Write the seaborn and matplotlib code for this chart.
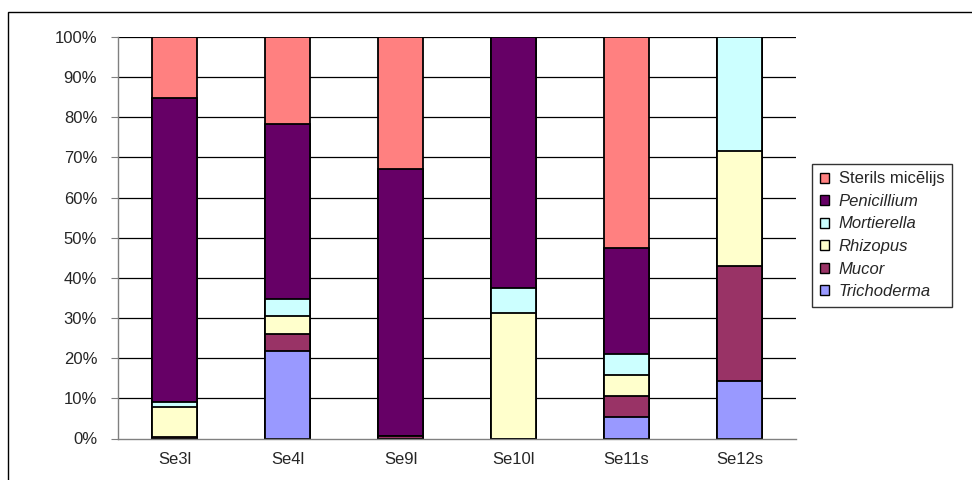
import matplotlib
matplotlib.use("Agg")
import matplotlib.pyplot as plt
import seaborn as sns
import pandas as pd
from matplotlib.patches import Patch, Rectangle

# dati (procenti pa paraugiem)
samples = ["Se3l", "Se4l", "Se9l", "Se10l", "Se11s", "Se12s"]
trichoderma = [0.0, 21.7, 0.0, 0.0, 5.3, 14.3]
mucor = [0.3, 4.35, 0.7, 0.0, 5.3, 28.6]
rhizopus = [7.5, 4.35, 0.0, 31.25, 5.3, 28.6]
mortierella = [1.4, 4.35, 0.0, 6.25, 5.2, 28.5]
penicillium = [75.7, 43.55, 66.3, 62.5, 26.3, 0.0]
sterils = [15.1, 21.7, 33.0, 0.0, 52.6, 0.0]

names = ["Trichoderma", "Mucor", "Rhizopus", "Mortierella", "Penicillium", "Sterils micēlijs"]
colors = ["#9999FF", "#993366", "#FFFFCC", "#CCFFFF", "#660066", "#FF8080"]

sns.set_style("white")
plt.rcParams["font.family"] = ["Liberation Sans", "DejaVu Sans"]
plt.rcParams["font.size"] = 12

df = pd.DataFrame({"sample": samples, "Trichoderma": trichoderma, "Mucor": mucor,
                   "Rhizopus": rhizopus, "Mortierella": mortierella,
                   "Penicillium": penicillium, "Sterils micēlijs": sterils})
cum = df[names].cumsum(axis=1)
cum["sample"] = df["sample"]

fig = plt.figure(figsize=(9.72, 4.8), dpi=100)
ax = fig.add_axes([118 / 972, 1 - 438.5 / 480, (796 - 118) / 972, (438.5 - 37) / 480])

# gridlines aiz stabiņiem
for v in range(10, 101, 10):
    ax.axhline(v, color="black", lw=0.9, zorder=0)

# no augšas uz leju, lai katrs slānis pārklāj iepriekšējo
for name, col in zip(reversed(names), reversed(colors)):
    sns.barplot(data=cum, x="sample", y=name, color=col, edgecolor="black",
                linewidth=1.3, width=0.4, saturation=1, ax=ax, zorder=2)

ax.set_xlim(-0.5, 5.5)
ax.set_ylim(0, 100)
ax.set_yticks(range(0, 101, 10))
ax.set_yticklabels([f"{v}%" for v in range(0, 101, 10)])
ax.set_xticks(range(len(samples)))
ax.set_xticklabels(samples)
ax.set_xticks([i - 0.5 for i in range(len(samples) + 1)], minor=True)
ax.tick_params(axis="x", which="major", length=0, pad=10)
ax.tick_params(axis="x", which="minor", length=4, color="#808080", direction="out")
ax.tick_params(axis="y", length=5, color="#808080", direction="out", pad=10, left=True)
ax.set_xlabel("")
ax.set_ylabel("")
for s in ["top", "right"]:
    ax.spines[s].set_visible(False)
for s in ["left", "bottom"]:
    ax.spines[s].set_color("#808080")
    ax.spines[s].set_linewidth(1)

handles = [Patch(facecolor=c, edgecolor="black", linewidth=1) for c in reversed(colors)]
leg = fig.legend(handles, list(reversed(names)), loc="upper left",
                 bbox_to_anchor=(812 / 972, 1 - 164 / 480), borderaxespad=0,
                 frameon=True, fancybox=False,
                 edgecolor="black", handlelength=0.55, handleheight=0.55, handletextpad=0.6,
                 labelspacing=0.45, borderpad=0.45, fontsize=12)
leg.get_frame().set_linewidth(1)
for t in leg.get_texts():
    if t.get_text() != "Sterils micēlijs":
        t.set_style("italic")

# rāmis ap visu diagrammu
fig.patches.append(Rectangle((8 / 972, -0.1), 1.2, 1.1 - 12 / 480, transform=fig.transFigure,
                             fill=False, edgecolor="black", lw=1))

fig.savefig("out.png", dpi=100)
